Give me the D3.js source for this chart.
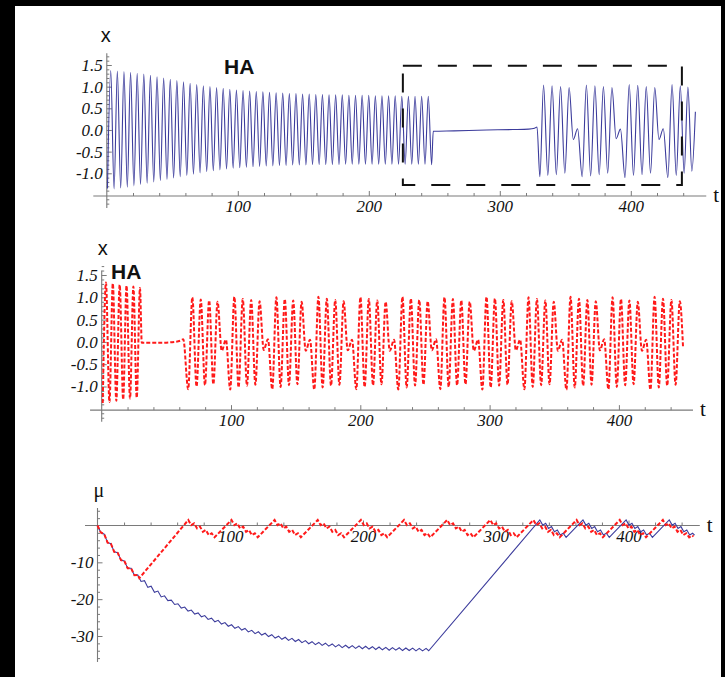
<!DOCTYPE html>
<html><head><meta charset="utf-8">
<script src="https://cdn.jsdelivr.net/npm/d3@7"></script>
<style>body{margin:0;background:#000}svg{display:block}
.serif{font-family:"Liberation Serif","Times New Roman",Times,"DejaVu Serif",serif}
.sans{font-family:"Liberation Sans",Arial,Helvetica,sans-serif}
</style>
</head><body>
<svg id="c" width="725" height="677"></svg>
<script>
// ---------------- DATA ----------------
// Panel 1 (blue x, HA): extrema of the first oscillation burst
const blueXPeakT = [3.0,8.05,13.1,18.15,23.2,28.25,33.3,38.35,43.4,48.45,53.5,58.55,63.6,68.65,73.7,78.75,83.8,88.85,93.9,98.95,104.0,109.05,114.1,119.15,124.2,129.25,134.3,139.35,144.4,149.45,154.5,159.55,164.6,169.65,174.7,179.75,184.8,189.85,194.9,199.95,205.0,210.05,215.1,220.15,225.2,230.25,235.3,240.35,245.4];
const blueXPeakV = [1.37,1.36,1.35,1.33,1.31,1.29,1.26,1.23,1.2,1.17,1.14,1.11,1.08,1.05,1.02,1.0,0.98,0.96,0.94,0.92,0.91,0.9,0.89,0.88,0.87,0.86,0.85,0.84,0.84,0.83,0.83,0.82,0.82,0.81,0.81,0.81,0.8,0.8,0.8,0.8,0.79,0.79,0.79,0.79,0.78,0.78,0.78,0.78,0.78];
const blueXTroughT = [0.5,5.55,10.6,15.65,20.7,25.75,30.8,35.85,40.9,45.95,51.0,56.05,61.1,66.15,71.2,76.25,81.3,86.35,91.4,96.45,101.5,106.55,111.6,116.65,121.7,126.75,131.8,136.85,141.9,146.95,152.0,157.05,162.1,167.15,172.2,177.25,182.3,187.35,192.4,197.45,202.5,207.55,212.6,217.65,222.7,227.75,232.8,237.85,242.9,247.95];
const blueXTroughV = [-1.35,-1.36,-1.34,-1.32,-1.29,-1.26,-1.23,-1.2,-1.17,-1.14,-1.11,-1.08,-1.05,-1.02,-0.99,-0.96,-0.94,-0.92,-0.9,-0.88,-0.87,-0.86,-0.85,-0.84,-0.83,-0.83,-0.82,-0.82,-0.81,-0.81,-0.81,-0.8,-0.8,-0.8,-0.8,-0.8,-0.79,-0.79,-0.79,-0.79,-0.79,-0.79,-0.79,-0.79,-0.79,-0.79,-0.79,-0.79,-0.79,-0.8];
const blueXFlat = [249.2,-0.03, 265,-0.02, 290,0.0, 310,0.01, 322,0.02, 326.5,0.04, 328.4,0.07];
const blueXBurst = [
 330.6,-1.08, 333.4,1.04, 336.65,-1.05, 339.9,1.02, 343.15,-1.03, 346.4,1.0, 349.65,-1.0, 352.9,0.98, 356.1,-0.22, 359.4,0.03,
 362.9,-1.08, 366.1,1.04, 369.35,-1.06, 372.6,1.02, 375.85,-1.03, 379.1,1.0, 382.35,-1.0, 385.6,0.98, 388.8,-0.2, 392.1,0.02,
 395.6,-1.1, 398.8,1.05, 402.05,-1.05, 405.3,1.03, 408.55,-1.03, 411.8,1.0, 415.05,-1.0, 418.3,0.98, 421.5,-0.22, 424.8,0.03,
 428.3,-1.1, 431.5,1.05, 434.7,-1.05, 437.8,1.02, 440.7,-1.0, 443.6,0.99, 446.6,-0.95, 449.3,0.42];
const zoomBoxT = [226, 439];
const zoomBoxX = [-1.27, 1.485];

// Panel 2 (red x, HA)
const redXPeakT = [3.3,8.6,13.9,19.2,24.5,29.6];
const redXPeakV = [1.33,1.31,1.28,1.26,1.24,1.21];
const redXTroughT = [0.8,6.0,11.3,16.6,21.9,27.1];
const redXTroughV = [-1.37,-1.35,-1.32,-1.29,-1.27,-1.25];
const redXFlat = [31.0,-0.02, 45,-0.02, 56,0.0, 61,0.03, 63.1,0.06];
const redXBurst = [
 66.9,-1.06, 70.1,1.0, 73.35,-1.0, 76.6,0.95, 79.85,-0.97, 83.1,0.93, 86.35,-0.95, 89.6,0.9, 92.8,-0.2, 96.1,0.05,
 99.4,-1.07, 102.6,1.01, 105.85,-1.02, 109.1,0.96, 112.35,-0.98, 115.6,0.94, 118.85,-0.96, 122.1,0.91, 125.3,-0.18, 128.6,0.06,
 131.9,-1.06, 135.1,1.0, 138.35,-1.01, 141.6,0.96, 144.85,-0.97, 148.1,0.93, 151.35,-0.95, 154.6,0.9, 157.8,-0.2, 161.1,0.05,
 164.4,-1.07, 167.6,1.01, 170.85,-1.02, 174.1,0.97, 177.35,-0.98, 180.6,0.94, 183.85,-0.96, 187.1,0.91, 190.3,-0.19, 193.6,0.05,
 196.9,-1.06, 200.1,1.0, 203.35,-1.01, 206.6,0.96, 209.85,-0.97, 213.1,0.93, 216.35,-0.95, 219.6,0.9, 222.8,-0.2, 226.1,0.05,
 229.4,-1.07, 232.6,1.01, 235.85,-1.02, 239.1,0.97, 242.35,-0.98, 245.6,0.94, 248.85,-0.96, 252.1,0.91, 255.3,-0.19, 258.6,0.06,
 261.9,-1.06, 265.1,1.0, 268.35,-1.01, 271.6,0.96, 274.85,-0.97, 278.1,0.93, 281.35,-0.95, 284.6,0.9, 287.8,-0.2, 291.1,0.05,
 294.4,-1.07, 297.6,1.01, 300.85,-1.02, 304.1,0.97, 307.35,-0.98, 310.6,0.94, 313.85,-0.96, 317.1,0.91, 320.3,-0.19, 323.6,0.05,
 326.9,-1.06, 330.1,1.0, 333.35,-1.01, 336.6,0.96, 339.85,-0.97, 343.1,0.93, 346.35,-0.95, 349.6,0.9, 352.8,-0.2, 356.1,0.05,
 359.4,-1.07, 362.6,1.01, 365.85,-1.02, 369.1,0.97, 372.35,-0.98, 375.6,0.94, 378.85,-0.96, 382.1,0.91, 385.3,-0.19, 388.6,0.06,
 391.9,-1.06, 395.1,1.0, 398.35,-1.01, 401.6,0.96, 404.85,-0.97, 408.1,0.93, 411.35,-0.95, 414.6,0.9, 417.8,-0.2, 421.1,0.05,
 424.4,-1.07, 427.6,1.01, 430.85,-1.02, 434.1,0.97, 437.35,-0.98, 440.6,0.94, 443.85,-0.96, 447.1,0.91, 449.6,-0.12];

// Panel 3 (mu)
const blueMuDecay = [0,0, 2.5,-1.9, 5.1,-2.35, 7.6,-4.65, 10.1,-4.95, 12.6,-7.15, 15.2,-7.4, 17.7,-9.4, 20.2,-9.6, 22.7,-11.6, 25.3,-11.6, 27.8,-13.5, 30.3,-13.4,
 32.8,-15.2, 35.4,-15.0, 37.9,-16.8, 40.4,-16.5, 42.9,-18.15, 45.5,-17.8, 48.0,-19.4, 50.5,-19.1, 53.0,-20.4, 55.6,-20.25, 58.1,-21.45, 60.6,-21.25,
 63.1,-22.4, 65.7,-22.15, 68.2,-23.25, 70.7,-22.95, 73.2,-24.05, 75.8,-23.75, 78.3,-24.8, 80.8,-24.45, 83.3,-25.5, 85.9,-25.15, 88.4,-26.15, 90.9,-25.75,
 93.4,-26.75, 96.0,-26.35, 98.5,-27.35, 101.0,-26.95, 103.5,-27.9, 106.1,-27.45, 108.6,-28.4, 111.1,-27.95, 113.6,-28.9, 116.2,-28.45, 118.7,-29.35,
 121.2,-28.85, 123.7,-29.75, 126.3,-29.25, 128.8,-30.15, 131.3,-29.65, 133.8,-30.55, 136.4,-30.05, 138.9,-30.9, 141.4,-30.35, 143.9,-31.2, 146.5,-30.65,
 149.0,-31.5, 151.5,-30.95, 154.0,-31.8, 156.6,-31.25, 159.1,-32.1, 161.6,-31.55, 164.1,-32.35, 166.7,-31.75, 169.2,-32.55, 171.7,-31.95, 174.2,-32.75,
 176.8,-32.15, 179.3,-32.95, 181.8,-32.35, 184.3,-33.15, 186.9,-32.5, 189.4,-33.25, 191.9,-32.6, 194.4,-33.35, 197.0,-32.7, 199.5,-33.45, 202.0,-32.8,
 204.5,-33.55, 207.1,-32.9, 209.6,-33.65, 212.1,-33.0, 214.6,-33.75, 217.2,-33.1, 219.7,-33.85, 222.2,-33.15, 224.7,-33.85, 227.3,-33.2, 229.8,-33.95,
 232.3,-33.25, 234.8,-33.95, 237.4,-33.3, 239.9,-34.05, 242.4,-33.35, 244.9,-34.05, 247.5,-33.35, 249.5,-34.0];
const blueMuBurst = [
 333.2,1.5, 335.4,0.1, 337.6,0.6, 339.8,-0.8, 342.0,-0.3, 344.2,-1.7, 346.4,-1.2, 348.6,-2.6, 350.8,-2.1, 353.0,-3.2,
 365.7,1.5, 367.9,0.1, 370.1,0.6, 372.3,-0.8, 374.5,-0.3, 376.7,-1.7, 378.9,-1.2, 381.1,-2.6, 383.3,-2.1, 385.5,-3.2,
 398.2,1.5, 400.4,0.1, 402.6,0.6, 404.8,-0.8, 407.0,-0.3, 409.2,-1.7, 411.4,-1.2, 413.6,-2.6, 415.8,-2.1, 418.0,-3.2,
 430.7,1.5, 432.9,0.1, 435.1,0.6, 437.3,-0.8, 439.5,-0.3, 441.7,-1.7, 443.9,-1.2, 446.1,-2.6, 448.3,-2.1, 449.8,-2.6];
const redMuDecay = [0,0, 2.5,-1.9, 5.1,-2.35, 7.6,-4.65, 10.1,-4.95, 12.6,-7.15, 15.2,-7.4, 17.7,-9.4, 20.2,-9.6, 22.7,-11.6, 25.3,-11.6, 27.8,-13.5, 30.3,-13.4, 31.5,-14.3];
const redMuBurst = [
 68.4,1.5, 70.6,0.1, 72.8,0.6, 75.0,-0.8, 77.2,-0.3, 79.4,-1.7, 81.6,-1.2, 83.8,-2.6, 86.0,-2.1, 88.2,-3.2,
 100.9,1.5, 103.1,0.1, 105.3,0.6, 107.5,-0.8, 109.7,-0.3, 111.9,-1.7, 114.1,-1.2, 116.3,-2.6, 118.5,-2.1, 120.7,-3.2,
 133.4,1.5, 135.6,0.1, 137.8,0.6, 140.0,-0.8, 142.2,-0.3, 144.4,-1.7, 146.6,-1.2, 148.8,-2.6, 151.0,-2.1, 153.2,-3.2,
 165.9,1.5, 168.1,0.1, 170.3,0.6, 172.5,-0.8, 174.7,-0.3, 176.9,-1.7, 179.1,-1.2, 181.3,-2.6, 183.5,-2.1, 185.7,-3.2,
 198.4,1.5, 200.6,0.1, 202.8,0.6, 205.0,-0.8, 207.2,-0.3, 209.4,-1.7, 211.6,-1.2, 213.8,-2.6, 216.0,-2.1, 218.2,-3.2,
 230.9,1.5, 233.1,0.1, 235.3,0.6, 237.5,-0.8, 239.7,-0.3, 241.9,-1.7, 244.1,-1.2, 246.3,-2.6, 248.5,-2.1, 250.7,-3.2,
 263.4,1.5, 265.6,0.1, 267.8,0.6, 270.0,-0.8, 272.2,-0.3, 274.4,-1.7, 276.6,-1.2, 278.8,-2.6, 281.0,-2.1, 283.2,-3.2,
 295.9,1.5, 298.1,0.1, 300.3,0.6, 302.5,-0.8, 304.7,-0.3, 306.9,-1.7, 309.1,-1.2, 311.3,-2.6, 313.5,-2.1, 315.7,-3.2,
 328.4,1.5, 330.6,0.1, 332.8,0.6, 335.0,-0.8, 337.2,-0.3, 339.4,-1.7, 341.6,-1.2, 343.8,-2.6, 346.0,-2.1, 348.2,-3.2,
 360.9,1.5, 363.1,0.1, 365.3,0.6, 367.5,-0.8, 369.7,-0.3, 371.9,-1.7, 374.1,-1.2, 376.3,-2.6, 378.5,-2.1, 380.7,-3.2,
 393.4,1.5, 395.6,0.1, 397.8,0.6, 400.0,-0.8, 402.2,-0.3, 404.4,-1.7, 406.6,-1.2, 408.8,-2.6, 411.0,-2.1, 413.2,-3.2,
 425.9,1.5, 428.1,0.1, 430.3,0.6, 432.5,-0.8, 434.7,-0.3, 436.9,-1.7, 439.1,-1.2, 441.3,-2.6, 443.5,-2.1, 445.7,-3.2, 447.9,-2.7, 449.0,-3.0];

// ticks
const tMajor = [100, 200, 300, 400];
const tMinor = [20,40,60,80,120,140,160,180,220,240,260,280,320,340,360,380,420,440];
const xMajorTicks = [-1.0, -0.5, 0.0, 0.5, 1.0, 1.5];
const xMinorTicks = [-1.7,-1.6,-1.4,-1.3,-1.2,-1.1,-0.9,-0.8,-0.7,-0.6,-0.4,-0.3,-0.2,-0.1,0.1,0.2,0.3,0.4,0.6,0.7,0.8,0.9,1.1,1.2,1.3,1.4,1.6,1.7];
const muMajorTicks = [-10, -20, -30];
const muMinorTicks = [4,2,-2,-4,-6,-8,-12,-14,-16,-18,-22,-24,-26,-28,-32,-34,-36];

// ---------------- HELPERS ----------------
const pairs = flat => { const o=[]; for(let i=0;i+1<flat.length;i+=2) o.push([flat[i],flat[i+1]]); return o; };
const zip = (T,V) => T.slice(0, Math.min(T.length,V.length)).map((t,i)=>[t,V[i]]);
const byT = (a,b) => a[0]-b[0];

const svg = d3.select("#c");
svg.append("rect").attr("x",15).attr("y",6).attr("width",706).attr("height",671).attr("fill","#fff");

const AX = "#7a7a7a";
const fmtX = d => (d<0?"-":"") + Math.abs(d).toFixed(1);
const fmtMu = d => (d<0?"-":"") + Math.abs(d);

function panel(o){
  const g = svg.append("g");
  const yA = o.ys(o.axisAt);
  g.append("line").attr("x1",o.xs(o.tExt[0])).attr("x2",o.xs(o.tExt[1])).attr("y1",yA).attr("y2",yA).attr("stroke",AX).attr("stroke-width",1.1);
  g.append("line").attr("x1",o.xs(0)).attr("x2",o.xs(0)).attr("y1",o.ys(o.vExt[0])).attr("y2",o.ys(o.vExt[1])).attr("stroke",AX).attr("stroke-width",1.1);
  const xMaj = g.append("g").attr("transform",`translate(0,${yA})`)
     .call(d3.axisBottom(o.xs).tickValues(tMajor).tickSize(-5).tickPadding(4).tickFormat(d=>d));
  const xMin = g.append("g").attr("transform",`translate(0,${yA})`)
     .call(d3.axisBottom(o.xs).tickValues(tMinor).tickSize(-3).tickFormat(""));
  const yMaj = g.append("g").attr("transform",`translate(${o.xs(0)},0)`)
     .call(d3.axisLeft(o.ys).tickValues(o.yMajor).tickSize(-5).tickPadding(4).tickFormat(o.fmt));
  const yMin = g.append("g").attr("transform",`translate(${o.xs(0)},0)`)
     .call(d3.axisLeft(o.ys).tickValues(o.yMinor).tickSize(-2.5).tickFormat(""));
  [xMaj,xMin,yMaj,yMin].forEach(a=>{
    a.attr("font-family",null).attr("font-size",null);
    a.select(".domain").remove();
    a.selectAll(".tick line").attr("stroke",AX);
    a.selectAll(".tick text").attr("class","serif")
      .style("font-style","italic").style("font-size","17px").attr("fill","#111");
  });
  g.append("text").attr("class","serif").attr("x",o.xs(o.tExt[1])+7).attr("y",yA+6).text("t")
    .style("font-size","21px").attr("fill","#111");
  return g;
}

const lineOf = (xs,ys,curve) => d3.line().x(d=>xs(d[0])).y(d=>ys(d[1])).curve(curve);

// ---------------- PANEL 1 ----------------
const xs1 = d3.scaleLinear().domain([0,400]).range([106.8, 630.8]);
const ys1 = d3.scaleLinear().domain([-1,1.5]).range([173.3, 65]);
const g1 = panel({xs:xs1, ys:ys1, axisAt:-1.524, tExt:[-10.3,457.6], vExt:[-1.8,1.77],
  yMajor:xMajorTicks, yMinor:xMinorTicks, fmt:fmtX});
const blue1 = zip(blueXPeakT,blueXPeakV).concat(zip(blueXTroughT,blueXTroughV)).sort(byT)
  .concat(pairs(blueXFlat), pairs(blueXBurst));
g1.append("path").datum(blue1).attr("d", lineOf(xs1,ys1,d3.curveMonotoneX))
  .attr("fill","none").attr("stroke","#3c3c9c").attr("stroke-width",1.1);
g1.append("rect").attr("x",xs1(zoomBoxT[0])).attr("y",ys1(zoomBoxX[1]))
  .attr("width",xs1(zoomBoxT[1])-xs1(zoomBoxT[0])).attr("height",ys1(zoomBoxX[0])-ys1(zoomBoxX[1]))
  .attr("fill","none").attr("stroke","#111").attr("stroke-width",2).attr("stroke-dasharray","19,16");
g1.append("text").attr("class","sans").attr("x",xs1(0)-6).attr("y",42).text("x")
  .style("font-size","20px").attr("fill","#111");
g1.append("text").attr("class","sans").attr("x",224).attr("y",73.5).text("HA")
  .style("font-weight","bold").style("font-size","21px").attr("fill","#111");

// ---------------- PANEL 2 ----------------
const xs2 = d3.scaleLinear().domain([0,400]).range([101.7, 618.9]);
const ys2 = d3.scaleLinear().domain([-1,1.5]).range([386.5, 275]);
const g2 = panel({xs:xs2, ys:ys2, axisAt:-1.53, tExt:[-9,457.3], vExt:[-1.79,1.6],
  yMajor:xMajorTicks, yMinor:xMinorTicks, fmt:fmtX});
const red2 = zip(redXPeakT,redXPeakV).concat(zip(redXTroughT,redXTroughV)).sort(byT)
  .concat(pairs(redXFlat), pairs(redXBurst));
g2.append("path").datum(red2).attr("d", lineOf(xs2,ys2,d3.curveMonotoneX))
  .attr("fill","none").attr("stroke","#ff1a1a").attr("stroke-width",2).attr("stroke-dasharray","4,2");
g2.append("text").attr("class","sans").attr("x",xs2(0)-4).attr("y",255).text("x")
  .style("font-size","20px").attr("fill","#111");
g2.append("text").attr("class","sans").attr("x",111).attr("y",278.5).text("HA")
  .style("font-weight","bold").style("font-size","21px").attr("fill","#111");

// ---------------- PANEL 3 ----------------
const xs3 = d3.scaleLinear().domain([0,400]).range([97.5, 628.5]);
const ys3 = d3.scaleLinear().domain([-30,0]).range([636, 525.5]);
const g3 = panel({xs:xs3, ys:ys3, axisAt:0, tExt:[-9.4,453.7], vExt:[-37.05,4.75],
  yMajor:muMajorTicks, yMinor:muMinorTicks, fmt:fmtMu});
const blue3 = pairs(blueMuDecay).concat(pairs(blueMuBurst));
const red3 = pairs(redMuDecay).concat(pairs(redMuBurst));
g3.append("path").datum(blue3).attr("d", lineOf(xs3,ys3,d3.curveLinear))
  .attr("fill","none").attr("stroke","#3c3c9c").attr("stroke-width",1.1);
g3.append("path").datum(red3).attr("d", lineOf(xs3,ys3,d3.curveLinear))
  .attr("fill","none").attr("stroke","#ff1a1a").attr("stroke-width",2).attr("stroke-dasharray","4,2");
g3.append("text").attr("class","serif").attr("x",xs3(0)-4).attr("y",497).text("μ")
  .style("font-size","20px").attr("fill","#111");
</script>
</body></html>
